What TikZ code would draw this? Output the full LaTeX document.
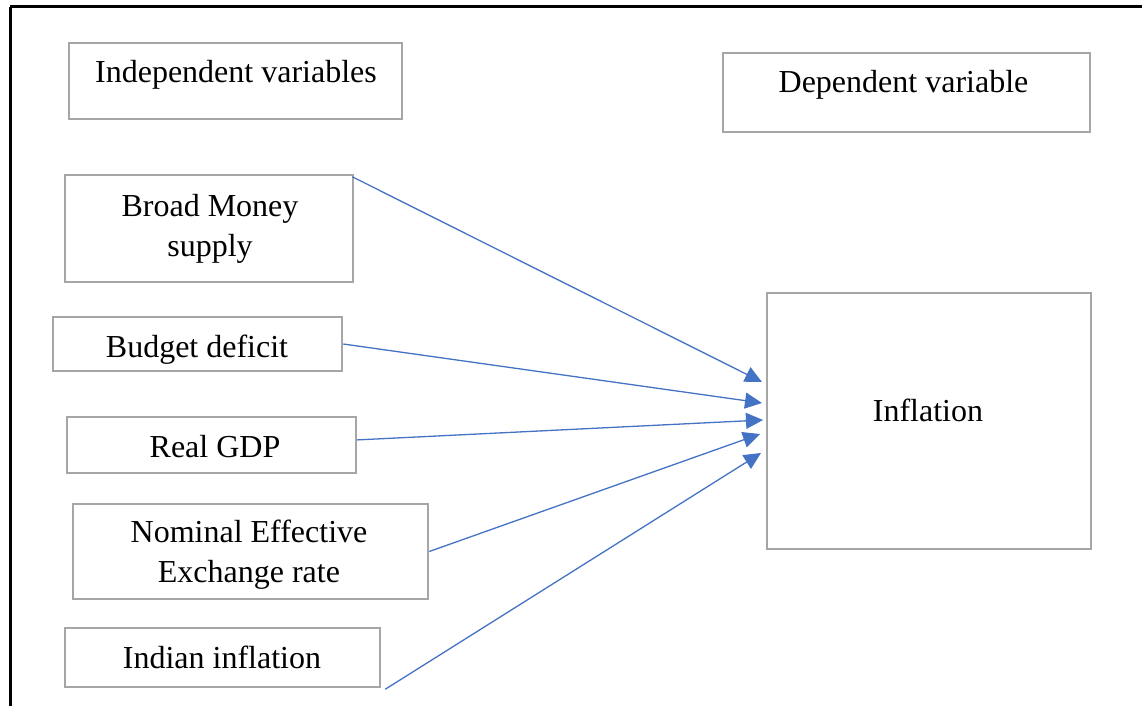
\documentclass[tikz,border=0pt]{standalone}
\usepackage{fontspec}
\setmainfont{Liberation Serif}
\usetikzlibrary{arrows.meta}
\definecolor{boxgray}{HTML}{A6A6A6}
\definecolor{arrowblue}{HTML}{4472C4}
\begin{document}
\begin{tikzpicture}[x=1pt,y=-1pt,
  box/.style={draw=boxgray,line width=2.5pt,inner sep=0pt,fill=none},
  txt/.style={inner sep=0pt,font=\fontsize{32}{40}\selectfont,align=center},
  link/.style={draw=arrowblue,line width=1.3pt,-{Triangle[length=17pt,width=16pt]}}]
\useasboundingbox (0,0) rectangle (1142,706);
% outer frame (top and left)
\draw[line width=3pt,black] (10,7) -- (1142,7);
\draw[line width=3pt,black] (10,7) -- (10,706);
% boxes
\node[box,minimum width=333pt,minimum height=76pt] (ind) at (235.5,81) {};
\node[box,minimum width=367pt,minimum height=79pt] (dep) at (906.5,92.5) {};
\node[box,minimum width=288pt,minimum height=107pt] (bm) at (209,228.5) {};
\node[box,minimum width=289pt,minimum height=54pt] (bd) at (197.5,344) {};
\node[box,minimum width=289pt,minimum height=56pt] (rg) at (211.5,445) {};
\node[box,minimum width=355pt,minimum height=95pt] (nee) at (250.5,551.5) {};
\node[box,minimum width=315pt,minimum height=59pt] (ii) at (222.5,657.5) {};
\node[box,minimum width=324pt,minimum height=256pt] (inf) at (929,421) {};
% texts
\node[txt,anchor=base] (tind) at (236,83) {Independent variables};
\node[txt,anchor=base] (tdep) at (903.5,93) {Dependent variable};
\node[txt,anchor=center] (tbm) at (210,229) {Broad Money\\supply};
\node[txt,anchor=base] (tbd) at (197,357) {Budget deficit};
\node[txt,anchor=base] (trg) at (215,457) {Real GDP};
\node[txt,anchor=center] (tnee) at (249,555) {Nominal Effective\\Exchange rate};
\node[txt,anchor=base] (tii) at (222,668) {Indian inflation};
\node[txt,anchor=base] (tinf) at (928,421) {Inflation};
% arrow tips
\coordinate (e1) at (762,382);
\coordinate (e2) at (762,403);
\coordinate (e3) at (763,420);
\coordinate (e4) at (760,434);
\coordinate (e5) at (761,453);
% connectors
\draw[link] ([xshift=-2pt,yshift=-3pt]bm.north east) -- (e1);
\draw[link] (bd.east) -- (e2);
\draw[link] (rg.2) -- (e3);
\draw[link] (nee.east) -- (e4);
\draw[link] ([xshift=4pt,yshift=-1pt]ii.south east) -- (e5);
\end{tikzpicture}
\end{document}
